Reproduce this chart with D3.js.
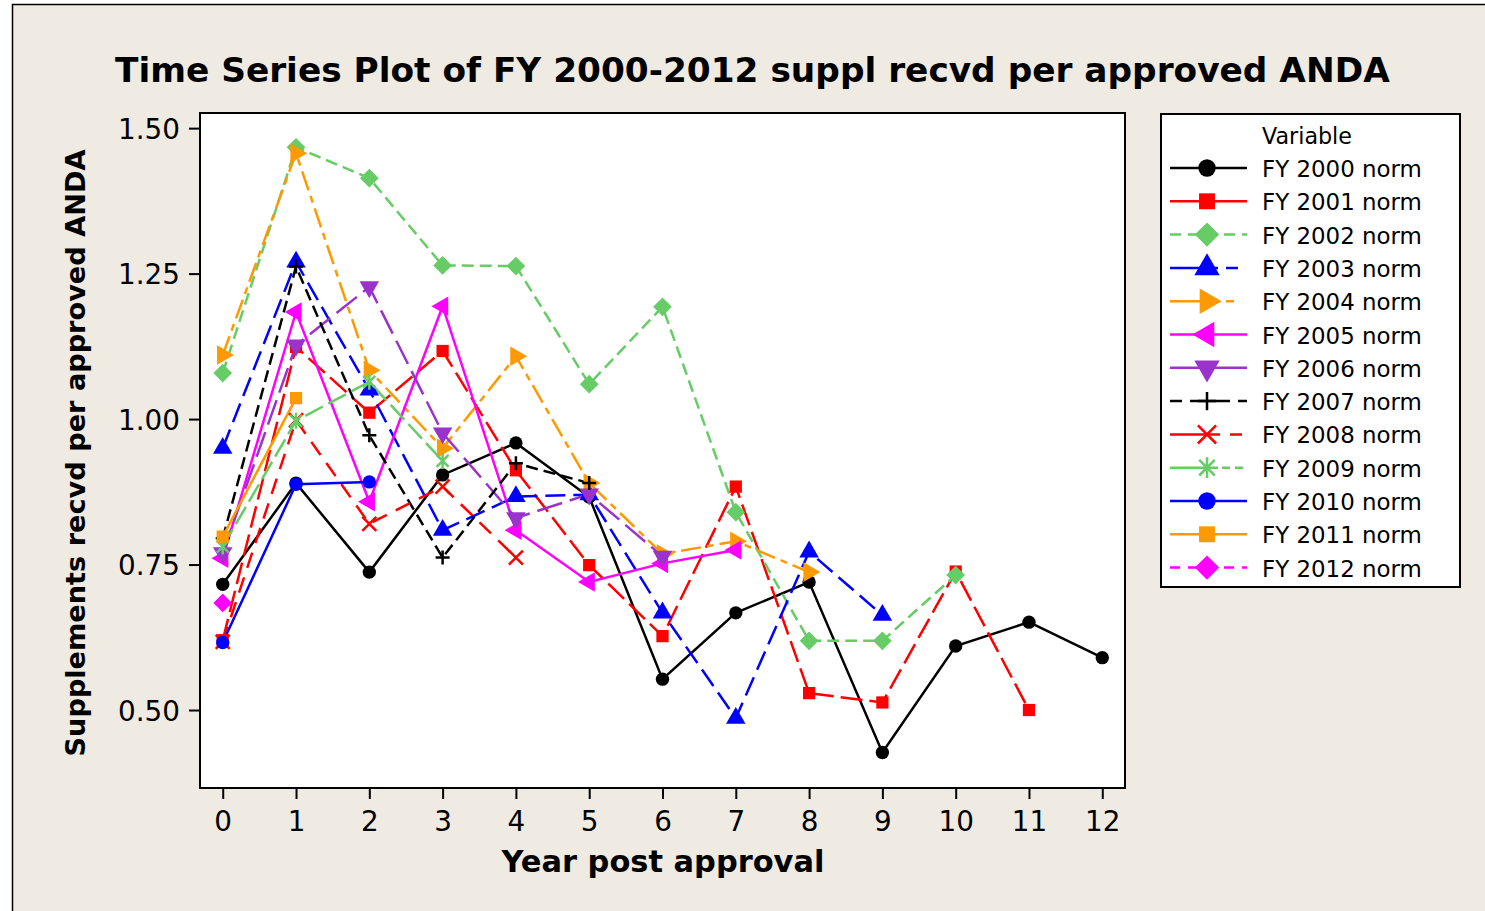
<!DOCTYPE html>
<html lang="en">
<head>
<meta charset="UTF-8">
<title>Time Series Plot of FY 2000-2012 suppl recvd per approved ANDA</title>
<script src="https://d3js.org/d3.v7.min.js"></script>
<style>
    body { margin: 0; background: #fff; }
    svg text { font-family: "DejaVu Sans", Verdana, sans-serif; fill: #000; }
</style>
</head>
<body>
<svg id="chart"></svg>
<script>
// data
const yearsPost = [0, 1, 2, 3, 4, 5, 6, 7, 8, 9, 10, 11, 12];
const yTicks = [0.50, 0.75, 1.00, 1.25, 1.50];
const seriesNames = ["FY 2000 norm", "FY 2001 norm", "FY 2002 norm", "FY 2003 norm", "FY 2004 norm",
    "FY 2005 norm", "FY 2006 norm", "FY 2007 norm", "FY 2008 norm", "FY 2009 norm",
    "FY 2010 norm", "FY 2011 norm", "FY 2012 norm"];

const fy2000 = [0.716, 0.890, 0.737, 0.904, 0.959, 0.866, 0.553, 0.667, 0.720, 0.427, 0.610, 0.651, 0.590];
const fy2001 = [0.620, 1.124, 1.011, 1.117, 0.912, 0.749, 0.627, 0.884, 0.529, 0.513, 0.738, 0.500];
const fy2002 = [1.079, 1.467, 1.414, 1.264, 1.263, 1.060, 1.193, 0.840, 0.619, 0.619, 0.732];
const fy2003 = [0.950, 1.270, 1.050, 0.809, 0.867, 0.870, 0.667, 0.486, 0.772, 0.663];
const fy2004 = [1.110, 1.457, 1.084, 0.950, 1.108, 0.890, 0.768, 0.790, 0.737];
const fy2005 = [0.761, 1.184, 0.858, 1.194, 0.809, 0.720, 0.752, 0.775];
const fy2006 = [0.770, 1.127, 1.227, 0.976, 0.830, 0.871, 0.764];
const fy2007 = [0.795, 1.262, 0.972, 0.762, 0.924, 0.890];
const fy2008 = [0.617, 0.998, 0.820, 0.884, 0.762];
const fy2009 = [0.781, 0.997, 1.064, 0.928];
const fy2010 = [0.616, 0.888, 0.892];
const fy2011 = [0.798, 1.036];
const fy2012 = [0.684];

const allValues = [fy2000, fy2001, fy2002, fy2003, fy2004, fy2005, fy2006,
    fy2007, fy2008, fy2009, fy2010, fy2011, fy2012];

// look of each series (colour, dash in plot, dash in legend, marker)
const styles = [
    { color: "#000000", dash: null,       legDash: null,           marker: "circle" },
    { color: "#ff0000", dash: "22,7",     legDash: null,           marker: "square" },
    { color: "#66cc66", dash: "12,6",     legDash: "11,7",         marker: "diamond" },
    { color: "#0000ff", dash: "20,8",     legDash: "48,8,12,40",   marker: "triUp" },
    { color: "#ff9900", dash: "20,6,7,6", legDash: "50,6,8,40",    marker: "triRight" },
    { color: "#ff00ff", dash: null,       legDash: null,           marker: "triLeft" },
    { color: "#9933cc", dash: "26,8",     legDash: null,           marker: "triDown" },
    { color: "#000000", dash: "12,6",     legDash: "12,8,40,8,12", marker: "plus" },
    { color: "#ff0000", dash: "16,10",    legDash: "50,10,12,40",  marker: "cross" },
    { color: "#66cc66", dash: "20,6",     legDash: "48,4,8,5,8,40", marker: "star" },
    { color: "#0000ff", dash: null,       legDash: null,           marker: "circle" },
    { color: "#ff9900", dash: null,       legDash: null,           marker: "square" },
    { color: "#ff00ff", dash: "12,8",     legDash: "10,8",         marker: "diamond" }
];

const W = 1485, H = 911;
const svg = d3.select("#chart").attr("width", W).attr("height", H);

// outer panel
svg.append("rect")
    .attr("x", 12.5).attr("y", 4.5).attr("width", W + 20).attr("height", H + 20)
    .attr("fill", "#efebe2").attr("stroke", "#000").attr("stroke-width", 1.5);

const plot = { left: 200, right: 1125, top: 113, bottom: 788 };

const x = d3.scaleLinear().domain([-0.31, 12.31]).range([plot.left, plot.right]);
const y = d3.scaleLinear().domain([0.366, 1.526]).range([plot.bottom, plot.top]);

// scale a text's font size so it spans the given width
function fit(sel, width) {
    const node = sel.node();
    const fs = parseFloat(sel.attr("font-size"));
    const len = node.getComputedTextLength();
    sel.attr("font-size", (fs * width / len).toFixed(2));
    return sel;
}

// plot area
svg.append("rect")
    .attr("x", plot.left).attr("y", plot.top)
    .attr("width", plot.right - plot.left).attr("height", plot.bottom - plot.top)
    .attr("fill", "#fff");

// axes
const xAxis = svg.append("g")
    .attr("transform", `translate(0,${plot.bottom})`)
    .call(d3.axisBottom(x).tickValues(yearsPost).tickFormat(d3.format("d")).tickSize(11).tickSizeOuter(0));
xAxis.select(".domain").remove();
xAxis.selectAll("line").attr("stroke", "#000").attr("stroke-width", 2);
xAxis.selectAll("text").attr("y", 43).attr("dy", 0)
    .attr("font-size", 27).attr("font-family", "DejaVu Sans, sans-serif");

const yAxis = svg.append("g")
    .attr("transform", `translate(${plot.left},0)`)
    .call(d3.axisLeft(y).tickValues(yTicks).tickFormat(d3.format(".2f")).tickSize(11).tickSizeOuter(0));
yAxis.select(".domain").remove();
yAxis.selectAll("line").attr("stroke", "#000").attr("stroke-width", 2);
yAxis.selectAll("text").attr("x", -20).attr("dy", "0.36em")
    .attr("font-size", 27).attr("font-family", "DejaVu Sans, sans-serif");

// match tick label size to reference ("1.50" is ~62px wide)
const probe = yAxis.select("text");
const tickFs = 27 * 62 / probe.node().getComputedTextLength();
xAxis.selectAll("text").attr("font-size", tickFs);
yAxis.selectAll("text").attr("font-size", tickFs);

// marker shapes
function markerPath(type) {
    switch (type) {
        case "circle":  return d3.symbol(d3.symbolCircle, 140)();
        case "square":  return d3.symbol(d3.symbolSquare, 150)();
        case "diamond": return d3.symbol(d3.symbolSquare, 175)();
        case "triUp":
        case "triRight":
        case "triLeft":
        case "triDown": return d3.symbol(d3.symbolTriangle, 165)();
        case "plus":    return "M-7,0H7M0,-7V7";
        case "cross":   return "M-7,-7L7,7M-7,7L7,-7";
        case "star":    return "M-6,-6L6,6M-6,6L6,-6M0,-8V8";
    }
}
const rotation = { diamond: 45, triRight: 90, triLeft: -90, triDown: 180 };
const stroked = { plus: true, cross: true, star: true };

function drawMarker(g, type, color, cx, cy, k = 1) {
    const rot = rotation[type] || 0;
    const p = g.append("path")
        .attr("d", markerPath(type))
        .attr("transform", `translate(${cx},${cy}) rotate(${rot}) scale(${k})`);
    if (stroked[type]) {
        p.attr("fill", "none").attr("stroke", color).attr("stroke-width", 2.5 / k);
    } else {
        p.attr("fill", color);
    }
}

const series = allValues.map((vals, i) => ({
    name: seriesNames[i],
    style: styles[i],
    points: vals.map((v, j) => ({ year: yearsPost[j], value: v }))
}));

const line = d3.line().x(d => x(d.year)).y(d => y(d.value));

const lines = svg.append("g");
series.forEach(s => {
    if (s.points.length < 2) return;
    lines.append("path")
        .datum(s.points)
        .attr("d", line)
        .attr("fill", "none")
        .attr("stroke", s.style.color)
        .attr("stroke-width", 2.5)
        .attr("stroke-dasharray", s.style.dash);
});

const marks = svg.append("g");
series.forEach(s => {
    s.points.forEach(p => drawMarker(marks, s.style.marker, s.style.color, x(p.year), y(p.value)));
});

// frame on top
svg.append("rect")
    .attr("x", plot.left).attr("y", plot.top)
    .attr("width", plot.right - plot.left).attr("height", plot.bottom - plot.top)
    .attr("fill", "none").attr("stroke", "#000").attr("stroke-width", 2);

// titles
const title = svg.append("text")
    .attr("x", 115).attr("y", 82)
    .attr("font-size", 34).attr("font-weight", "bold")
    .text("Time Series Plot of FY 2000-2012 suppl recvd per approved ANDA");
fit(title, 1275);

const xTitle = svg.append("text")
    .attr("x", 663).attr("y", 872).attr("text-anchor", "middle")
    .attr("font-size", 30).attr("font-weight", "bold")
    .text("Year post approval");
fit(xTitle, 323);

const yTitle = svg.append("text")
    .attr("transform", "translate(85,453) rotate(-90)")
    .attr("text-anchor", "middle")
    .attr("font-size", 30).attr("font-weight", "bold")
    .text("Supplements recvd per approved ANDA");
fit(yTitle, 607);

// legend
const legend = svg.append("g");
legend.append("rect")
    .attr("x", 1161).attr("y", 114).attr("width", 299).attr("height", 473)
    .attr("fill", "#fff").attr("stroke", "#000").attr("stroke-width", 2);

const legTitle = legend.append("text")
    .attr("x", 1262).attr("y", 144)
    .attr("font-size", 22)
    .text("Variable");
fit(legTitle, 90);

const rowStep = 33.3;
let legFs = null;
series.forEach((s, i) => {
    const cy = 168 + i * rowStep;
    legend.append("line")
        .attr("x1", 1170).attr("x2", 1247).attr("y1", cy).attr("y2", cy)
        .attr("stroke", s.style.color).attr("stroke-width", 2.5)
        .attr("stroke-dasharray", s.style.legDash);
    drawMarker(legend, s.style.marker, s.style.color, 1207, cy, 1.3);
    const t = legend.append("text")
        .attr("x", 1262).attr("y", cy + 9)
        .attr("font-size", 22)
        .text(s.name);
    if (legFs === null) {
        fit(t, 160);
        legFs = t.attr("font-size");
    } else {
        t.attr("font-size", legFs);
    }
});
</script>
</body>
</html>
